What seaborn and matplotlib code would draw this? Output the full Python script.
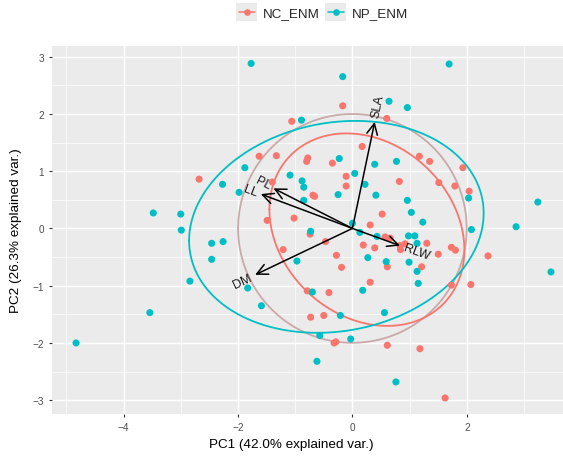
import numpy as np
import pandas as pd
import matplotlib
matplotlib.use("Agg")
import matplotlib.pyplot as plt
import seaborn as sns
from matplotlib.legend_handler import HandlerBase
from matplotlib.patches import Rectangle
from matplotlib.lines import Line2D

# ---------------- data ----------------
groups = ["NC_ENM", "NP_ENM"]
colors = ["#F8766D", "#00BFC4"]

nc_pc1 = [-1.06, -1.63, -1.33, -2.68, -1.40, -1.49, -1.02, -1.21, -0.17, 0.60,
          0.17, -0.78, -0.80, -0.35, 1.17, 1.35, 1.93, -0.11, -0.11, 0.82,
          1.51, 1.79, 2.04, -0.69, -0.66, 0.52, 0.31, -0.74, 0.57, 0.66,
          1.30, -0.47, 0.19, 0.39, 0.83, 0.92, 0.84, 1.50, 1.73, 1.80,
          2.37, -0.28, -0.19, 0.61, 1.21, 0.31, -0.79, -0.41, 1.73, 2.07,
          -0.73, -0.50, -0.32, -0.29, 0.61, 1.18, 1.62]
nc_pc2 = [1.87, 1.26, 1.27, 0.86, 0.81, 0.14, 0.18, -0.37, 2.14, 1.92,
          1.43, 1.23, 1.17, 1.14, 1.26, 1.17, 1.06, 0.91, 0.74, 0.82,
          0.80, 0.74, 0.65, 0.58, 0.56, 0.25, 0.06, -0.10, -0.15, -0.17,
          -0.26, -0.23, -0.29, -0.34, -0.30, -0.27, -0.37, -0.45, -0.33, -0.38,
          -0.48, -0.47, -0.68, -0.67, -0.67, -0.94, -1.09, -1.12, -0.99, -0.98,
          -1.55, -1.52, -2.00, -1.98, -2.04, -2.10, -2.96]

np_pc1 = [-1.77, -0.89, -1.88, -2.27, -1.98, -1.09, -3.48, -3.00, -2.99, -2.26,
          -2.46, -2.46, -2.84, -1.83, -1.59, -3.54, -4.83, -0.97, 1.69, -0.17,
          0.64, 0.96, -0.23, 0.39, 0.77, 0.04, 0.22, -0.88, -0.85, 2.03,
          -0.85, -0.25, 0.41, 0.96, 3.24, 1.03, 1.23, 0.00, 2.86, 2.08,
          -0.73, 0.13, 0.98, 1.09, 0.43, 1.13, 3.47, 0.27, 0.59, 0.99,
          1.13, 1.15, -0.70, 0.18, -0.21, 0.56, -0.57, -0.03, -0.62, 0.76]
np_pc2 = [2.88, 1.89, 1.06, 0.77, 0.63, 0.93, 0.27, 0.25, -0.03, -0.23,
          -0.26, -0.54, -0.92, -1.04, -1.35, -1.47, -2.00, -0.57, 2.87, 2.65,
          2.22, 2.11, 1.22, 1.12, 1.17, 0.96, 0.77, 0.83, 0.72, 0.53,
          0.49, 0.59, 0.58, 0.49, 0.46, 0.28, 0.11, 0.09, 0.03, -0.02,
          -0.05, -0.07, -0.13, -0.13, -0.14, -0.26, -0.76, -0.51, -0.58, -0.59,
          -0.75, -0.96, -1.11, -1.08, -1.52, -1.47, -1.87, -1.93, -2.32, -2.68]

var_names = ["SLA", "PL", "LL", "RLW", "DM"]
var_pc1 = [0.39, -1.38, -1.60, 0.83, -1.70]
var_pc2 = [1.86, 0.70, 0.60, -0.30, -0.81]

x_ticks = [-4, -2, 0, 2]
y_ticks = [-3, -2, -1, 0, 1, 2, 3]
x_label = "PC1 (42.0% explained var.)"
y_label = "PC2 (26.3% explained var.)"

df = pd.DataFrame({
    "PC1": nc_pc1 + np_pc1,
    "PC2": nc_pc2 + np_pc2,
    "group": ["NC_ENM"] * len(nc_pc1) + ["NP_ENM"] * len(np_pc1),
})

# ---------------- figure ----------------
sns.set_theme(style="darkgrid")
plt.rcParams["font.family"] = ["Liberation Sans", "DejaVu Sans"]

W, H = 563, 460
fig = plt.figure(figsize=(W / 100, H / 100), dpi=100)
left, right, top, bottom = 52, 575, 46.7, 415
ax = fig.add_axes([left / W, 1 - bottom / H, (right - left) / W, (bottom - top) / H])
ax.set_facecolor("#EBEBEB")

palette = dict(zip(groups, colors))

# circle (ggbiplot correlation circle)
allx = np.array(df["PC1"]); ally = np.array(df["PC2"])
r = np.sqrt(-2 * np.log(1 - 0.69)) * (np.mean(allx ** 2) * np.mean(ally ** 2)) ** 0.25
t = np.linspace(-np.pi, np.pi, 300)
ax.plot(r * np.cos(t), r * np.sin(t), color="#C9A9A9", lw=1.3, zorder=2)

# ellipses per group
ed = np.sqrt(-2 * np.log(1 - 0.68))
for g in groups:
    sub = df[df["group"] == g]
    x = sub["PC1"].to_numpy(); y = sub["PC2"].to_numpy()
    mu = np.array([x.mean(), y.mean()])
    S = np.cov(x, y)
    L = np.linalg.cholesky(S)
    pts = (L @ np.vstack([np.cos(t), np.sin(t)])) * ed + mu[:, None]
    ax.plot(pts[0], pts[1], color=palette[g], lw=1.3, zorder=2)

sns.scatterplot(data=df, x="PC1", y="PC2", hue="group", palette=palette,
                hue_order=groups, s=26, linewidth=0, ax=ax, legend=False, zorder=3)

# arrows + labels
for name, vx, vy in zip(var_names, var_pc1, var_pc2):
    ax.annotate("", xy=(vx, vy), xytext=(0, 0),
                arrowprops=dict(arrowstyle="->,head_length=0.65,head_width=0.32",
                                color="black", lw=1.1, shrinkA=0, shrinkB=0),
                zorder=4)
    ang = np.degrees(np.arctan(vy / vx))
    norm = np.hypot(vx, vy)
    off = 3.0
    ax.annotate(name, xy=(vx, vy), xytext=(off * vx / norm, off * vy / norm),
                textcoords="offset points", rotation=ang, rotation_mode="anchor",
                ha="left" if vx > 0 else "right", va="center",
                fontsize=9, color="#1a1a1a", zorder=5)

ax.set_xlim(-5.25, 3.89)
ax.set_ylim(-3.24, 3.19)
ax.set_xticks(x_ticks)
ax.set_yticks(y_ticks)
ax.set_xticks([-5, -3, -1, 1, 3], minor=True)
ax.set_yticks([-2.5, -1.5, -0.5, 0.5, 1.5, 2.5], minor=True)
ax.grid(which="major", color="white", lw=1.05)
ax.grid(which="minor", color="white", lw=0.5)
ax.set_axisbelow(True)
for s in ax.spines.values():
    s.set_visible(False)
ax.tick_params(which="major", length=2.5, width=0.8, color="#333333",
               labelsize=7.2, labelcolor="#4D4D4D", pad=3, bottom=True, left=True)
ax.tick_params(which="minor", length=0)
ax.set_xlabel(x_label, fontsize=9.7, color="black")
ax.set_ylabel(y_label, fontsize=9.7, color="black")
ax.xaxis.set_label_coords((291 - left) / (right - left), -0.065)
ax.yaxis.set_label_coords(-0.058, 0.5)


class KeyHandler(HandlerBase):
    def create_artists(self, legend, orig_handle, xdescent, ydescent, width, height, fontsize, trans):
        c = orig_handle.get_color()
        rect = Rectangle((-xdescent, -ydescent), width, height, facecolor="#EBEBEB",
                         edgecolor="none", transform=trans)
        ym = -ydescent + height / 2
        line = Line2D([-xdescent + 2, -xdescent + width - 2], [ym, ym], color=c, lw=1.1, transform=trans)
        mk = Line2D([-xdescent + width / 2], [ym], marker="o", color=c, markersize=4.8,
                    markeredgewidth=0, linestyle="none", transform=trans)
        return [rect, line, mk]


handles = [Line2D([], [], color=c) for c in colors]
fig.legend(handles, groups, handler_map={Line2D: KeyHandler()}, loc="center",
           bbox_to_anchor=(322 / W, 1 - 13 / H), ncol=2, frameon=False,
           fontsize=9.6, handlelength=1.6, handleheight=1.6, handletextpad=0.4,
           columnspacing=0.4, borderpad=0)

fig.savefig("out.png", dpi=100)
